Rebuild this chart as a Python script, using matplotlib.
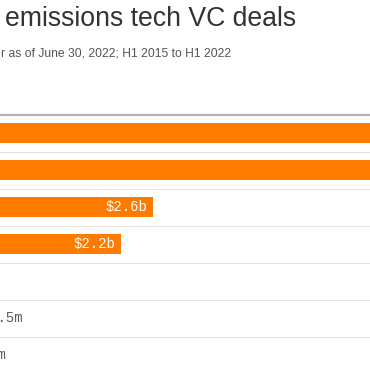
import matplotlib
matplotlib.use("Agg")
import matplotlib.pyplot as plt

# ---- data ----
periods = ["H1 2022", "H1 2021", "H1 2020", "H1 2019", "H1 2018", "H1 2017", "H1 2016", "H1 2015"]
values_b = [7.4, 6.2, 2.58, 2.16, 0.029, 0.1015, 0.104, 0.05]
labels = ["$7.4b", "$6.2b", "$2.6b", "$2.2b", "$29m", "$101.5m", "$104m", "$50m"]
title = "emissions tech VC deals"
subtitle = "r as of June 30, 2022; H1 2015 to H1 2022"

W = H = 370
DPI = 100
fig = plt.figure(figsize=(W / DPI, H / DPI), dpi=DPI)
fig.patch.set_facecolor("white")

ORANGE = "#ff7b00"
zero_px = -43.6
px_per_b = 76.2
top_px = 114.5
row_px = 37.0
n = len(periods)

ax_left = zero_px / W
ax_width = (W - zero_px) / W
ax_top = top_px
ax_bottom = top_px + row_px * n
ax = fig.add_axes([ax_left, (H - ax_bottom) / H, ax_width, (ax_bottom - ax_top) / H])
ax.set_xlim(0, (W - zero_px) / px_per_b)
ax.set_ylim(n - 0.5, -0.5)
ax.axis("off")

ypos = list(range(n))
ax.barh(ypos, values_b, height=20 / row_px, color=ORANGE, zorder=2)

for i in range(n):
    ax.axhline(i + 0.5, color="#e2e2e2", lw=0.8, zorder=1)
ax.axhline(-0.5, color="#b3b3b3", lw=1.6, zorder=3, clip_on=False)

mono = "Liberation Mono"
for y, v, lab in zip(ypos, values_b, labels):
    if v > 1.0:
        ax.annotate(lab, (v, y), xytext=(-4, 0), textcoords="offset points",
                    ha="right", va="center", color="white", fontsize=10,
                    family=mono)
    else:
        ax.annotate(lab, (v, y), xytext=(0, 0), textcoords="offset points",
                    ha="left", va="center", color="#5a5a5a", fontsize=10,
                    family=mono)

fig.text(5 / W, 1 - 26 / H, title, ha="left", va="baseline",
         fontsize=19.2, color="#333333", family="Liberation Sans")
fig.text(1 / W, 1 - 56 / H, subtitle, ha="left", va="baseline",
         fontsize=8.7, color="#555555", family="Liberation Sans")

fig.savefig("out.png", dpi=DPI, facecolor="white")
